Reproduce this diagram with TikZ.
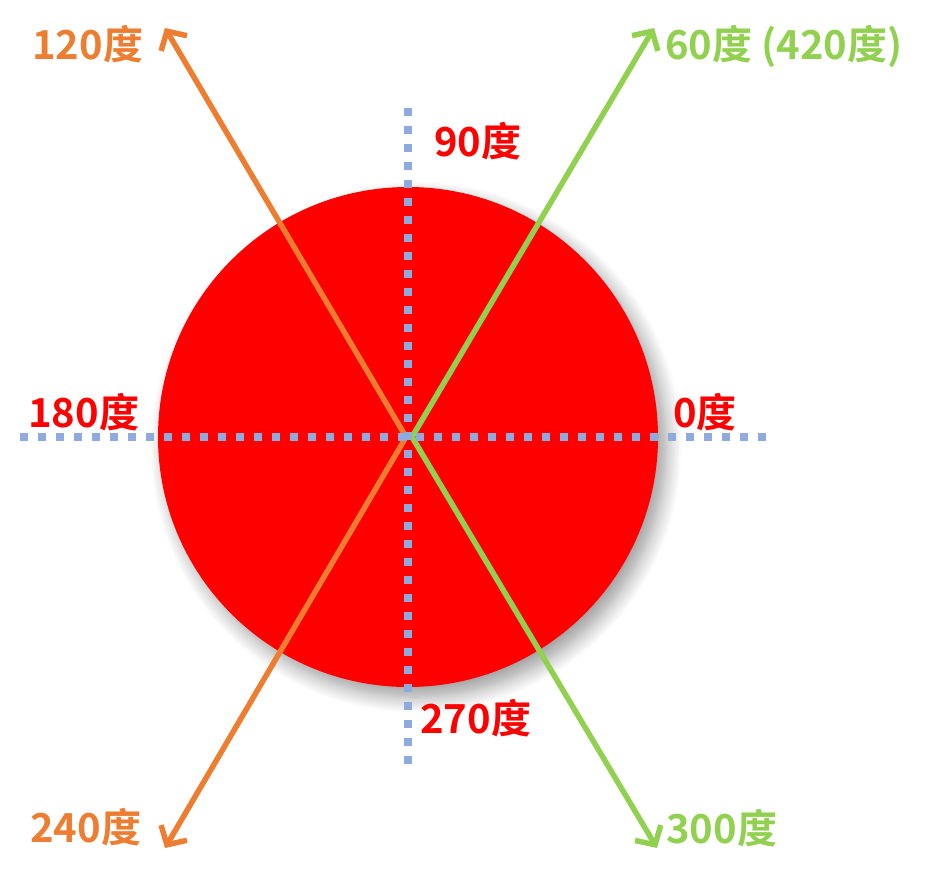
\documentclass[tikz,border=0pt]{standalone}
\usepackage{fontspec}
\setmainfont{Noto Sans CJK SC}[BoldFont={Noto Sans CJK SC Bold}]
\usetikzlibrary{arrows.meta,shadows.blur}
\definecolor{myred}{HTML}{FF0000}
\definecolor{myorange}{HTML}{ED7D31}
\definecolor{mygreen}{HTML}{92D050}
\definecolor{axisblue}{HTML}{8FAADC}
\begin{document}
\begin{tikzpicture}[x=1pt,y=-1pt,
  lbl/.style={anchor=base west,inner sep=0pt,font=\fontsize{40}{48}\selectfont\bfseries},
  ray/.style={line width=5.5pt,-{Straight Barb[length=14pt,width=30pt]}},
  axisline/.style={draw=axisblue,line width=8pt,dash pattern=on 8pt off 10pt}]
\useasboundingbox (0,0) rectangle (939,880);
% disc
\node[circle,fill=myred,minimum size=500pt,inner sep=0pt,
  blur shadow={shadow xshift=8pt,shadow yshift=-10pt,shadow blur radius=16pt,shadow blur steps=12,shadow opacity=40}]
  (disc) at (408,437) {};
% coordinates
\coordinate (oc) at (406,437);
\coordinate (gc) at (412,437);
\coordinate (t120) at (165,28);
\coordinate (t240) at (165,848);
\coordinate (t60) at (654,28);
\coordinate (t300) at (657,848);
\coordinate (hl) at (20,437);
\coordinate (hr) at (772,437);
\coordinate (vt) at (408,108);
\coordinate (vb) at (408,772);
% rays
\draw[ray,myorange] (oc) -- (t120);
\draw[ray,myorange] (oc) -- (t240);
\draw[ray,mygreen] (gc) -- (t60);
\draw[ray,mygreen] (gc) -- (t300);
% axes
\draw[axisline] (hl) -- (hr);
\draw[axisline] (vt) -- (vb);
% labels
\node[lbl,text=myorange] (l120) at (32,60) {120度};
\node[lbl,text=mygreen] (l60) at (665,60) {60度 (420度)};
\node[lbl,text=myred] (l90) at (434,156) {90度};
\node[lbl,text=myred] (l180) at (28,427) {180度};
\node[lbl,text=myred] (l0) at (673,427) {0度};
\node[lbl,text=myred] (l270) at (420,733) {270度};
\node[lbl,text=myorange] (l240) at (30,842) {240度};
\node[lbl,text=mygreen] (l300) at (666,843) {300度};
\end{tikzpicture}
\end{document}
